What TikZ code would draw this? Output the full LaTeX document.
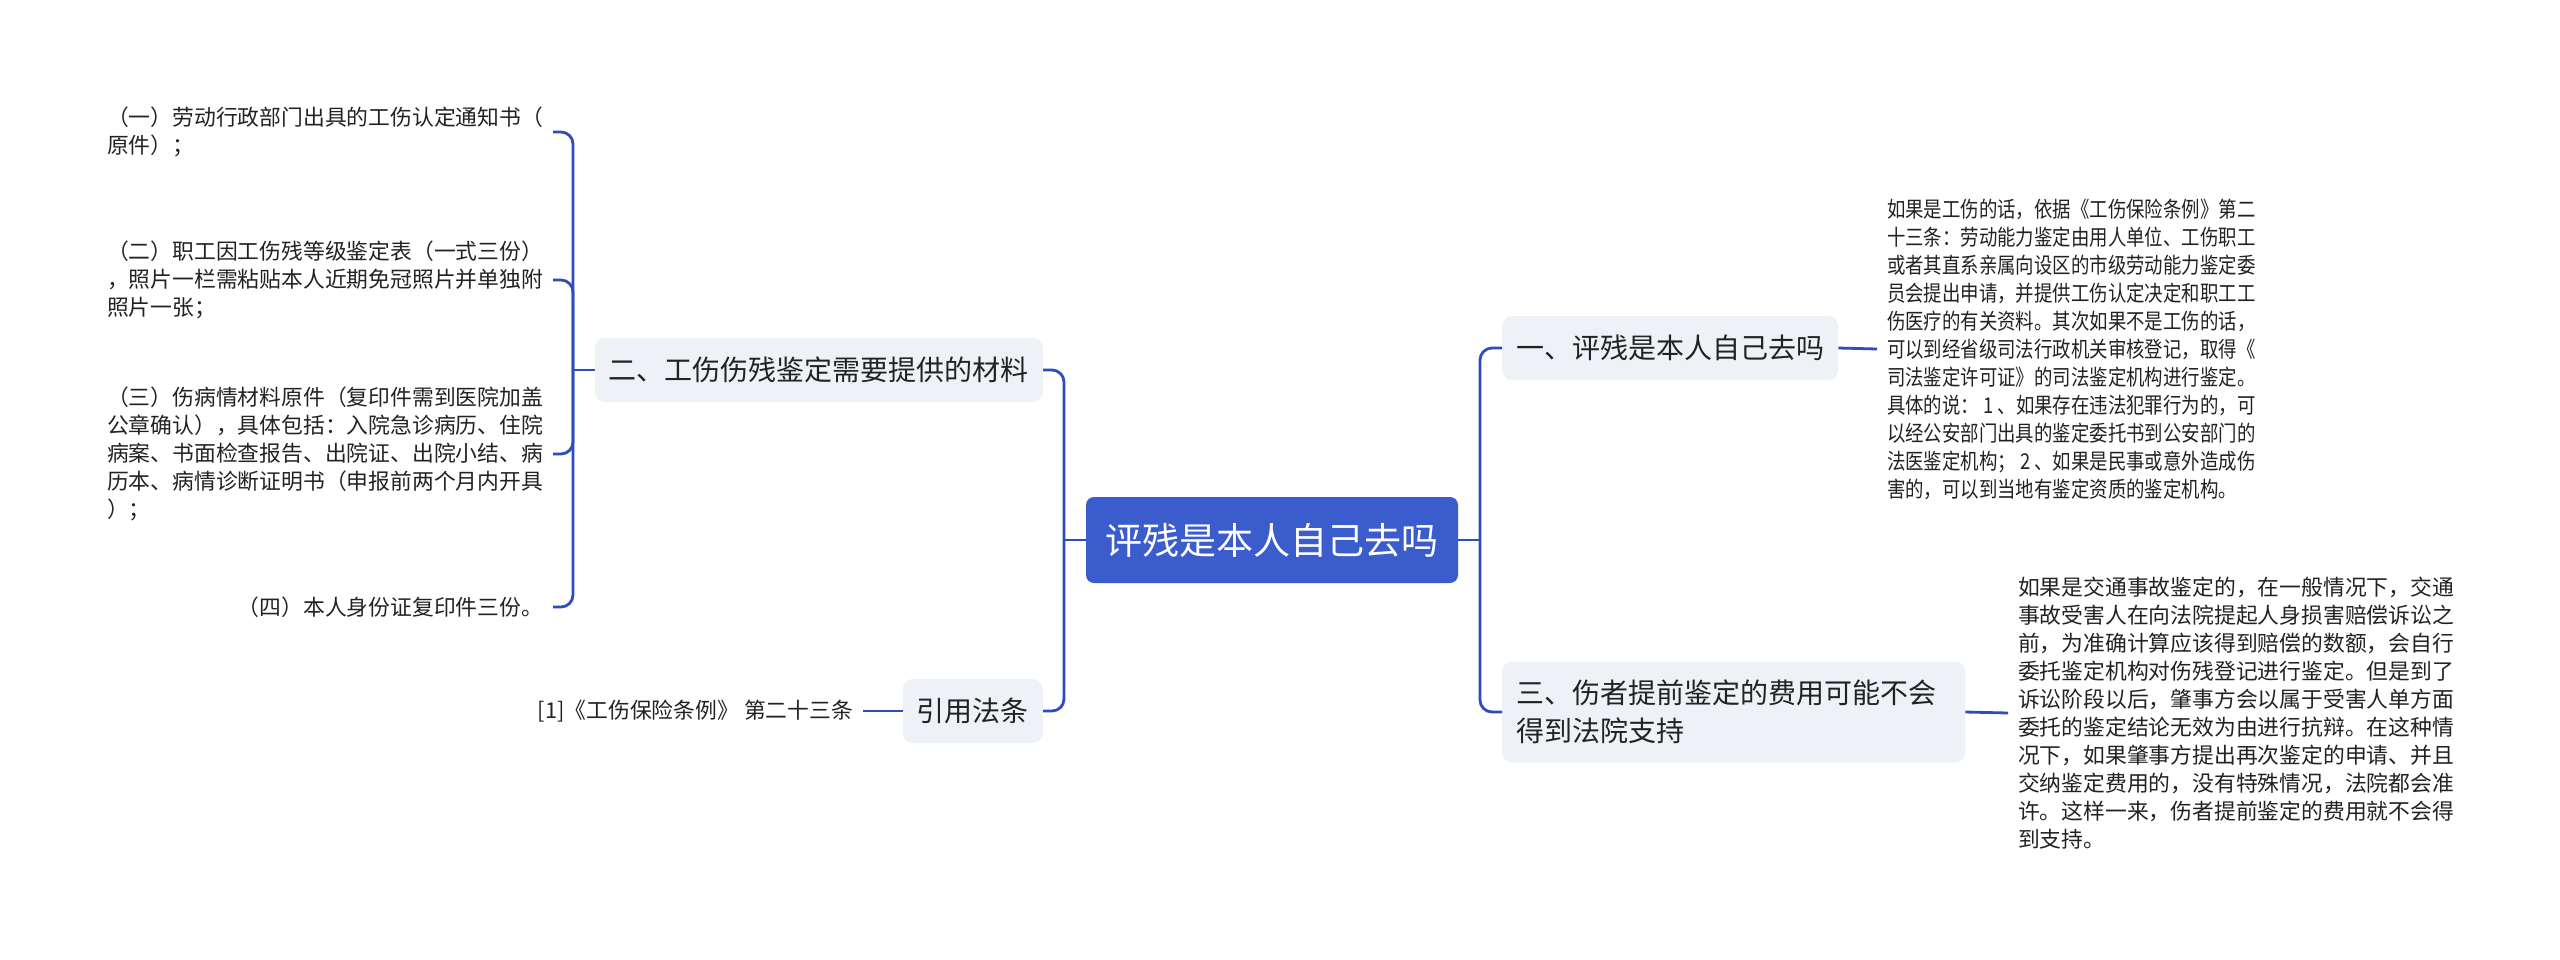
\documentclass[tikz,border=0pt]{standalone}
\usepackage{fontspec}
\setmainfont{Noto Sans CJK SC}
\newfontfamily\narrowcjk[FakeStretch=0.845]{Noto Sans CJK SC}
\usetikzlibrary{positioning}
\definecolor{linkblue}{RGB}{46,76,190}
\definecolor{rootblue}{RGB}{58,92,204}
\definecolor{topicgray}{RGB}{238,241,245}
\definecolor{inkgray}{RGB}{34,34,34}

\begin{document}
\begin{tikzpicture}[x=1pt, y=-1pt,
    link/.style={draw=linkblue, line width=2.8pt, rounded corners=12pt},
    rootbox/.style={fill=rootblue, text=white, rounded corners=8pt, minimum width=372pt, minimum height=86pt, font=\fontsize{37}{44}\selectfont},
    topic/.style={fill=topicgray, text=inkgray, rounded corners=10pt, inner xsep=14pt, minimum height=64pt, font=\fontsize{28}{38}\selectfont},
    leaf/.style={text=inkgray, inner sep=0pt, outer xsep=10pt, align=left, font=\fontsize{21.8}{28}\selectfont}]
  \useasboundingbox (0,0) rectangle (2560,959);

  % centre
  \node[rootbox] (root) at (1272,540) {评残是本人自己去吗};

  % left side
  \node[topic, anchor=east] (need) at (1043,370) {二、工伤伤残鉴定需要提供的材料};
  \node[topic, anchor=east] (cite) at (1043,711) {引用法条};

  \node[leaf, anchor=east] (m1) at (553,132) {（一）劳动行政部门出具的工伤认定通知书（\\原件）；};
  \node[leaf, anchor=east] (m2) at (553,280) {（二）职工因工伤残等级鉴定表（一式三份）\\，照片一栏需粘贴本人近期免冠照片并单独附\\照片一张；};
  \node[leaf, anchor=east] (m3) at (553,454) {（三）伤病情材料原件（复印件需到医院加盖\\公章确认），具体包括：入院急诊病历、住院\\病案、书面检查报告、出院证、出院小结、病\\历本、病情诊断证明书（申报前两个月内开具\\）；};
  \node[leaf, anchor=east] (m4) at (553,607) {（四）本人身份证复印件三份。};
  \node[leaf, anchor=east] (lawref) at (863,711) {[1]《工伤保险条例》 第二十三条};

  % right side
  \node[topic, anchor=west] (self) at (1502,348) {一、评残是本人自己去吗};
  \node[topic, anchor=west, text width=435pt, minimum height=101pt] (cost) at (1502,712) {三、伤者提前鉴定的费用可能不会\\得到法院支持};

  \node[leaf, anchor=west, font=\narrowcjk\fontsize{21.8}{28}\selectfont] (selfnote) at (1877,349) {如果是工伤的话，依据《工伤保险条例》第二\\十三条：劳动能力鉴定由用人单位、工伤职工\\或者其直系亲属向设区的市级劳动能力鉴定委\\员会提出申请，并提供工伤认定决定和职工工\\伤医疗的有关资料。其次如果不是工伤的话，\\可以到经省级司法行政机关审核登记，取得《\\司法鉴定许可证》的司法鉴定机构进行鉴定。\\具体的说： 1 、如果存在违法犯罪行为的，可\\以经公安部门出具的鉴定委托书到公安部门的\\法医鉴定机构； 2 、如果是民事或意外造成伤\\害的，可以到当地有鉴定资质的鉴定机构。};
  \node[leaf, anchor=west] (costnote) at (2008,713) {如果是交通事故鉴定的，在一般情况下，交通\\事故受害人在向法院提起人身损害赔偿诉讼之\\前，为准确计算应该得到赔偿的数额，会自行\\委托鉴定机构对伤残登记进行鉴定。但是到了\\诉讼阶段以后，肇事方会以属于受害人单方面\\委托的鉴定结论无效为由进行抗辩。在这种情\\况下，如果肇事方提出再次鉴定的申请、并且\\交纳鉴定费用的，没有特殊情况，法院都会准\\许。这样一来，伤者提前鉴定的费用就不会得\\到支持。};

  % connectors
  \coordinate (lj) at (1064,540);
  \coordinate (rj) at (1480,540);
  \coordinate (bj) at (573,370);

  \draw[link] (root.west) -- (lj);
  \draw[link] (need.east) -- (need.east -| lj) -- (cite.east -| lj) -- (cite.east);
  \draw[link] (root.east) -- (rj);
  \draw[link] (self.west) -- (self.west -| rj) -- (cost.west -| rj) -- (cost.west);
  \draw[link] (need.west) -- (bj);
  \foreach \n in {m1,m2,m3,m4}
    \draw[link] (bj) -- (bj |- \n.east) -- (\n.east);
  \draw[link] (cite.west) -- (lawref.east);
  \draw[link] (self.east) -- (selfnote.west);
  \draw[link] (cost.east) -- (costnote.west);
\end{tikzpicture}
\end{document}
